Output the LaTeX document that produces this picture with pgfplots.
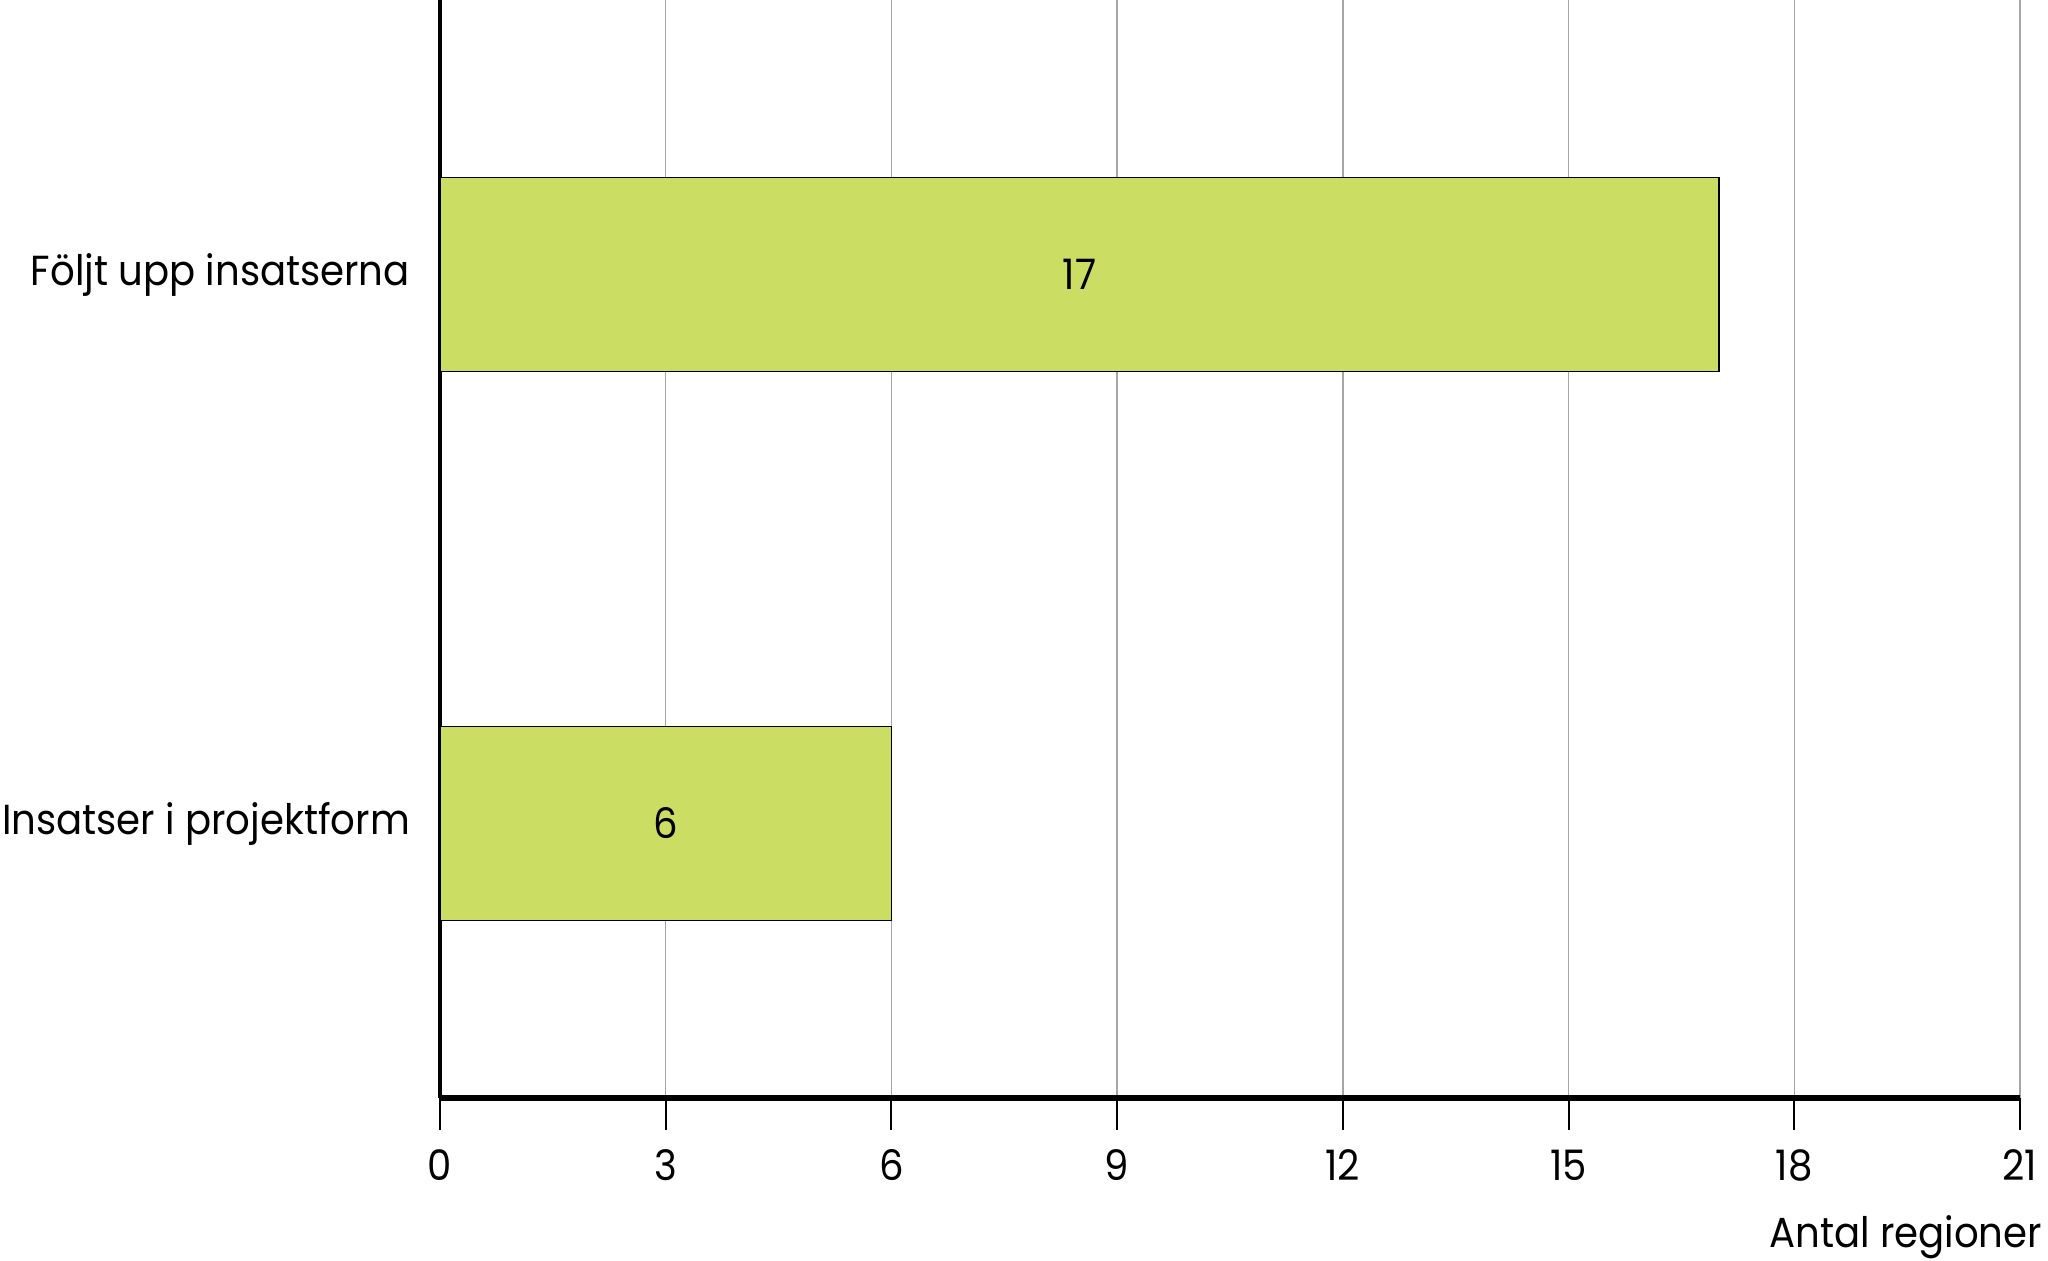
\documentclass[border=0pt]{standalone}
\usepackage{pgfplots}
\pgfplotsset{compat=1.18}
\usepackage{fontspec}
\setmainfont[FakeStretch=0.92]{Poppins}
\definecolor{barg}{RGB}{203,221,98}
\begin{document}
\begin{tikzpicture}
\begin{axis}[
  scale only axis,
  width=395pt, height=274.5pt,
  xmin=0, xmax=21, ymin=-0.5, ymax=1.5,
  xtick={0,3,...,21},
  ytick={0,1},
  yticklabels={Insatser i projektform, Följt upp insatserna},
  axis x line*=bottom, axis y line*=left,
  x axis line style={line width=1.4pt, -},
  y axis line style={line width=0.9pt, -},
  xmajorgrids, major grid style={gray!70, line width=0.35pt},
  tick align=outside,
  major tick length=8pt,
  xtick style={black, line width=0.5pt},
  ytick style={draw=none},
  /pgf/number format/assume math mode=true,
  tick label style={font=\fontsize{10.5}{12}\selectfont},
  xticklabel style={yshift=-1.4pt},
  yticklabel style={xshift=4pt},
  clip=false,
]
\addplot[xbar, bar width=48.5pt, fill=barg, draw=black, line width=0.45pt] coordinates {(6,0) (17,1)};
\addplot[draw=none, mark=none, nodes near coords, point meta=explicit symbolic,
  every node near coord/.style={anchor=center, font=\fontsize{10.5}{12}\selectfont}]
  coordinates {(3,0)[6] (8.5,1)[17]};
\node[anchor=base east, font=\fontsize{10.5}{12}\selectfont] at (rel axis cs:1,0) [xshift=9pt, yshift=-37.3pt] {Antal regioner};
\end{axis}
\pgfresetboundingbox
\path (-110pt,-40.75pt) rectangle (402pt,274.5pt);
\end{tikzpicture}
\end{document}
